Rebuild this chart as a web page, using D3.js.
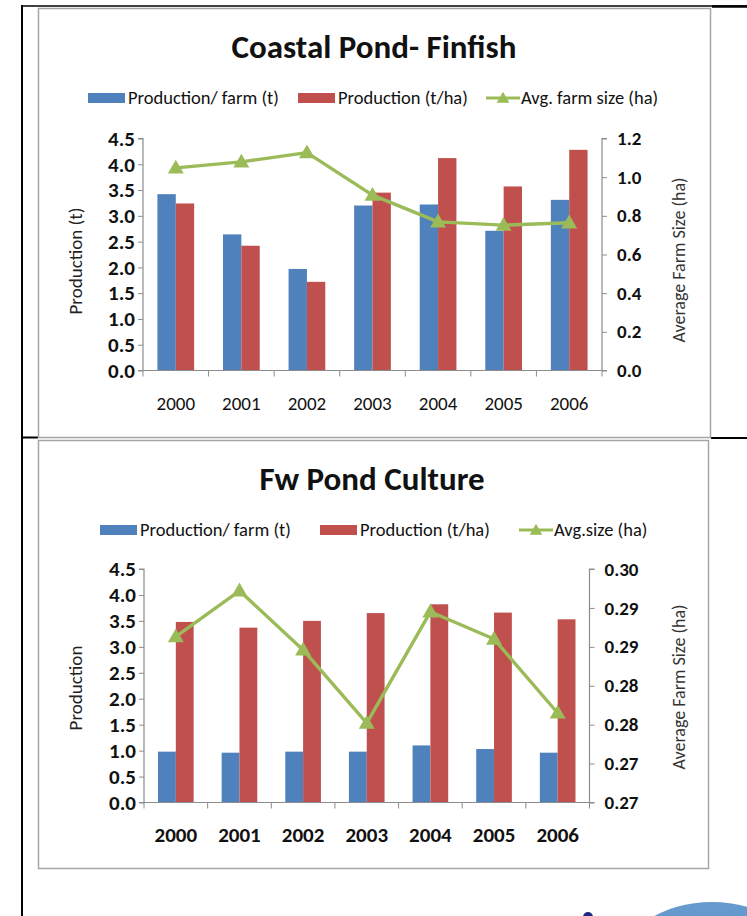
<!DOCTYPE html>
<html>
<head>
<meta charset="utf-8">
<script src="https://cdn.jsdelivr.net/npm/d3@7"></script>
<style>
  html, body { margin: 0; padding: 0; background: #fff; }
  svg { display: block; }
  text { font-family: Carlito, Lato, "Open Sans", sans-serif; }
</style>
</head>
<body>
<svg id="page" width="747" height="916"></svg>
<script>
// Shared categories
const years = ["2000", "2001", "2002", "2003", "2004", "2005", "2006"];

// Coastal Pond - Finfish
const coastalPerFarm = [3.42, 2.64, 1.97, 3.20, 3.22, 2.71, 3.31];
const coastalPerHa   = [3.24, 2.42, 1.72, 3.45, 4.12, 3.57, 4.28];
const coastalFarmSize = [1.048, 1.079, 1.127, 0.907, 0.769, 0.752, 0.764];
const coastalLeftTicks = [0, 0.5, 1, 1.5, 2, 2.5, 3, 3.5, 4, 4.5];
const coastalLeftLabels = ["0.0", "0.5", "1.0", "1.5", "2.0", "2.5", "3.0", "3.5", "4.0", "4.5"];
const coastalRightTicks = [0, 0.2, 0.4, 0.6, 0.8, 1.0, 1.2];
const coastalRightLabels = ["0.0", "0.2", "0.4", "0.6", "0.8", "1.0", "1.2"];

// Freshwater pond culture
const fwPerFarm = [0.98, 0.96, 0.98, 0.98, 1.10, 1.03, 0.96];
const fwPerHa   = [3.48, 3.37, 3.50, 3.65, 3.82, 3.66, 3.53];
const fwAvgSize = [0.2863, 0.2922, 0.2846, 0.2752, 0.2895, 0.2860, 0.2765];
const fwLeftTicks = [0, 0.5, 1, 1.5, 2, 2.5, 3, 3.5, 4, 4.5];
const fwLeftLabels = ["0.0", "0.5", "1.0", "1.5", "2.0", "2.5", "3.0", "3.5", "4.0", "4.5"];
const fwRightTicks = [0.265, 0.270, 0.275, 0.280, 0.285, 0.290, 0.295];
const fwRightLabels = ["0.27", "0.27", "0.28", "0.28", "0.29", "0.29", "0.30"];

const BLUE = "#4f81bd", RED = "#c0504d", GREEN = "#9bbb59", AXIS = "#8c8c8c";
const FONT = "Carlito, Lato, sans-serif";

const svg = d3.select("#page");

// Document table rules
const rules = svg.append("g").attr("stroke", "#000").attr("fill", "none");
rules.append("line").attr("x1", 22).attr("x2", 22).attr("y1", 5).attr("y2", 916).attr("stroke-width", 2);
rules.append("line").attr("x1", 21).attr("x2", 747).attr("y1", 6).attr("y2", 6).attr("stroke-width", 1.5);
rules.append("line").attr("x1", 712).attr("x2", 747).attr("y1", 6.5).attr("y2", 6.5).attr("stroke-width", 2.5);
rules.append("line").attr("x1", 22).attr("x2", 38).attr("y1", 437.5).attr("y2", 437.5).attr("stroke-width", 2);
rules.append("line").attr("x1", 711).attr("x2", 747).attr("y1", 438).attr("y2", 438).attr("stroke-width", 2);

// Decorative shapes at the page foot
svg.append("ellipse").attr("cx", 712).attr("cy", 966).attr("rx", 92).attr("ry", 64).attr("fill", "#6699cc");
svg.append("circle").attr("cx", 588).attr("cy", 917).attr("r", 5).attr("fill", "#1f2a80");

function drawChart(cfg) {
  const g = svg.append("g");

  // Chart frame
  g.append("rect")
    .attr("x", cfg.frame[0] + 0.5).attr("y", cfg.frame[1] + 0.5)
    .attr("width", cfg.frame[2]).attr("height", cfg.frame[3])
    .attr("fill", "#fff").attr("stroke", "#a6a6a6").attr("stroke-width", 1.5);

  // Title
  g.append("text")
    .attr("x", cfg.titleX).attr("y", cfg.titleY)
    .attr("text-anchor", "middle")
    .attr("font-size", 33).attr("font-weight", "bold").attr("fill", "#111")
    .text(cfg.title);

  const x = d3.scaleBand().domain(years).range([cfg.left, cfg.right])
    .paddingInner(0.44).paddingOuter(0.22);
  const xs = d3.scaleBand().domain(["a", "b"]).range([0, x.bandwidth()]);
  const yL = d3.scaleLinear().domain(cfg.leftDomain).range([cfg.bottom, cfg.top]);
  const yR = d3.scaleLinear().domain(cfg.rightDomain).range([cfg.bottom, cfg.top]);

  // Bars
  const rows = years.map((yr, i) => ({ yr, a: cfg.blue[i], b: cfg.red[i], s: cfg.line[i] }));
  const grp = g.append("g").selectAll("g").data(rows).join("g")
    .attr("transform", d => `translate(${x(d.yr)},0)`);
  grp.append("rect")
    .attr("x", xs("a")).attr("width", xs.bandwidth())
    .attr("y", d => yL(d.a)).attr("height", d => yL(0) - yL(d.a))
    .attr("fill", BLUE);
  grp.append("rect")
    .attr("x", xs("b")).attr("width", xs.bandwidth())
    .attr("y", d => yL(d.b)).attr("height", d => yL(0) - yL(d.b))
    .attr("fill", RED);

  // Axes
  const fmtL = v => cfg.leftLabels[cfg.leftTicks.indexOf(v)];
  const fmtR = v => cfg.rightLabels[cfg.rightTicks.indexOf(v)];

  const axL = g.append("g").attr("transform", `translate(${cfg.left},0)`)
    .call(d3.axisLeft(yL).tickValues(cfg.leftTicks).tickFormat(fmtL).tickSize(5).tickPadding(3));
  const axR = g.append("g").attr("transform", `translate(${cfg.right},0)`)
    .call(d3.axisRight(yR).tickValues(cfg.rightTicks).tickFormat(fmtR).tickSize(5).tickPadding(10));
  const axB = g.append("g").attr("transform", `translate(0,${cfg.bottom})`)
    .call(d3.axisBottom(x).tickSize(0).tickPadding(cfg.xPad));
  // category separators below the baseline
  const step = x.step();
  const bounds = d3.range(years.length + 1).map(i => cfg.left + i * step);
  axB.selectAll("line.sep").data(bounds).join("line").attr("class", "sep")
    .attr("x1", d => d).attr("x2", d => d).attr("y1", 0).attr("y2", 6)
    .attr("stroke", AXIS);

  [axL, axR, axB].forEach(a => {
    a.select(".domain").attr("stroke", AXIS).attr("stroke-width", 1.2);
    a.selectAll(".tick line").attr("stroke", AXIS);
  });
  axL.select(".domain").attr("d", `M-5,${cfg.top}H0V${cfg.bottom}H-5`);
  axR.select(".domain").attr("d", `M5,${cfg.top}H0V${cfg.bottom}H5`);
  axB.select(".domain").attr("d", `M${cfg.left},0H${cfg.right}`);

  axL.selectAll(".tick text").attr("font-size", 21).attr("font-weight", "bold")
    .attr("fill", "#111").attr("font-family", FONT);
  axR.selectAll(".tick text").attr("font-size", 19).attr("font-weight", "bold")
    .attr("fill", "#111").attr("font-family", FONT);
  axB.selectAll(".tick text").attr("font-size", cfg.xFont).attr("font-weight", cfg.xWeight)
    .attr("fill", "#111").attr("font-family", FONT);

  // Line series on the secondary axis
  const cx = d => x(d.yr) + x.bandwidth() / 2;
  g.append("path").datum(rows)
    .attr("d", d3.line().x(cx).y(d => yR(d.s)))
    .attr("fill", "none").attr("stroke", GREEN).attr("stroke-width", 3.4)
    .attr("stroke-linejoin", "round");
  g.append("g").selectAll("path").data(rows).join("path")
    .attr("d", d3.symbol(d3.symbolTriangle, 110))
    .attr("transform", d => `translate(${cx(d)},${yR(d.s) + 1})`)
    .attr("fill", GREEN);

  // Axis titles
  g.append("text")
    .attr("transform", `translate(${cfg.yLabelX},${cfg.yLabelY}) rotate(-90)`)
    .attr("text-anchor", "middle").attr("font-size", 19).attr("fill", "#222")
    .text(cfg.leftTitle);
  g.append("text")
    .attr("transform", `translate(${cfg.yRLabelX},${cfg.yRLabelY}) rotate(-90)`)
    .attr("text-anchor", "middle").attr("font-size", 18).attr("fill", "#333")
    .text(cfg.rightTitle);

  // Legend
  const lg = g.append("g").attr("transform", `translate(0,${cfg.legendY})`);
  cfg.legend.forEach(it => {
    if (it.type === "bar") {
      lg.append("rect").attr("x", it.x).attr("y", -5).attr("width", 37).attr("height", 10).attr("fill", it.color);
      lg.append("text").attr("x", it.x + 40).attr("y", 6).attr("font-size", 18.5).attr("fill", "#111").text(it.label);
    } else {
      lg.append("line").attr("x1", it.x).attr("x2", it.x + 34).attr("y1", 0).attr("y2", 0)
        .attr("stroke", it.color).attr("stroke-width", 3);
      lg.append("path").attr("d", d3.symbol(d3.symbolTriangle, 70))
        .attr("transform", `translate(${it.x + 17},1)`).attr("fill", it.color);
      lg.append("text").attr("x", it.x + 35).attr("y", 6).attr("font-size", 18.5).attr("fill", "#111").text(it.label);
    }
  });
}

drawChart({
  frame: [38, 8, 672, 429],
  title: "Coastal Pond- Finfish", titleX: 374, titleY: 58,
  left: 143, right: 602, top: 138.5, bottom: 370.5,
  leftDomain: [0, 4.5], rightDomain: [0, 1.2],
  blue: coastalPerFarm, red: coastalPerHa, line: coastalFarmSize,
  leftTicks: coastalLeftTicks, leftLabels: coastalLeftLabels,
  rightTicks: coastalRightTicks, rightLabels: coastalRightLabels,
  xFont: 19, xWeight: "normal", xPad: 26,
  leftTitle: "Production (t)", yLabelX: 82, yLabelY: 261,
  rightTitle: "Average Farm Size (ha)", yRLabelX: 685, yRLabelY: 260,
  legendY: 98,
  legend: [
    { type: "bar", x: 88, color: BLUE, label: "Production/ farm (t)" },
    { type: "bar", x: 298, color: RED, label: "Production (t/ha)" },
    { type: "line", x: 486, color: GREEN, label: "Avg. farm size (ha)" }
  ]
});

drawChart({
  frame: [38, 440, 670, 428],
  title: "Fw Pond Culture", titleX: 372, titleY: 490,
  left: 144, right: 589.5, top: 569, bottom: 802.5,
  leftDomain: [0, 4.5], rightDomain: [0.265, 0.295],
  blue: fwPerFarm, red: fwPerHa, line: fwAvgSize,
  leftTicks: fwLeftTicks, leftLabels: fwLeftLabels,
  rightTicks: fwRightTicks, rightLabels: fwRightLabels,
  xFont: 21, xWeight: "bold", xPad: 25,
  leftTitle: "Production", yLabelX: 82, yLabelY: 688,
  rightTitle: "Average Farm Size (ha)", yRLabelX: 685, yRLabelY: 687,
  legendY: 530,
  legend: [
    { type: "bar", x: 100, color: BLUE, label: "Production/ farm (t)" },
    { type: "bar", x: 320, color: RED, label: "Production (t/ha)" },
    { type: "line", x: 519, color: GREEN, label: "Avg.size (ha)" }
  ]
});
</script>
</body>
</html>
